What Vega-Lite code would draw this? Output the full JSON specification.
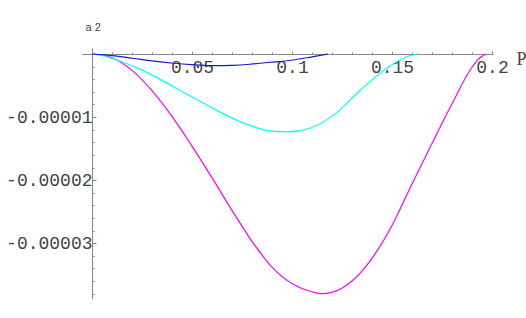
{
  "$schema": "https://vega.github.io/schema/vega-lite/v6.json",
  "width": 411,
  "height": 251,
  "autosize": "none",
  "padding": {"left": 82, "top": 48, "right": 33, "bottom": 19},
  "background": "white",
  "config": {"view": {"stroke": null}},
  "data": {"values": [
    {"s": "c3", "p": 0, "a2": 0},
    {"s": "c3", "p": 0.005, "a2": -0.015e-5},
    {"s": "c3", "p": 0.01, "a2": -0.06e-5},
    {"s": "c3", "p": 0.02, "a2": -0.26e-5},
    {"s": "c3", "p": 0.03, "a2": -0.58e-5},
    {"s": "c3", "p": 0.04, "a2": -0.99e-5},
    {"s": "c3", "p": 0.05, "a2": -1.46e-5},
    {"s": "c3", "p": 0.06, "a2": -1.96e-5},
    {"s": "c3", "p": 0.07, "a2": -2.48e-5},
    {"s": "c3", "p": 0.08, "a2": -2.97e-5},
    {"s": "c3", "p": 0.09, "a2": -3.38e-5},
    {"s": "c3", "p": 0.1, "a2": -3.64e-5},
    {"s": "c3", "p": 0.11, "a2": -3.77e-5},
    {"s": "c3", "p": 0.115, "a2": -3.80e-5},
    {"s": "c3", "p": 0.12, "a2": -3.78e-5},
    {"s": "c3", "p": 0.13, "a2": -3.60e-5},
    {"s": "c3", "p": 0.14, "a2": -3.24e-5},
    {"s": "c3", "p": 0.15, "a2": -2.72e-5},
    {"s": "c3", "p": 0.16, "a2": -2.06e-5},
    {"s": "c3", "p": 0.17, "a2": -1.42e-5},
    {"s": "c3", "p": 0.18, "a2": -0.79e-5},
    {"s": "c3", "p": 0.19, "a2": -0.21e-5},
    {"s": "c3", "p": 0.194, "a2": -0.06e-5},
    {"s": "c3", "p": 0.197, "a2": 0},
    {"s": "c2", "p": 0, "a2": 0},
    {"s": "c2", "p": 0.006, "a2": -0.03e-5},
    {"s": "c2", "p": 0.0124, "a2": -0.095e-5},
    {"s": "c2", "p": 0.024, "a2": -0.24e-5},
    {"s": "c2", "p": 0.0407, "a2": -0.518e-5},
    {"s": "c2", "p": 0.0574, "a2": -0.808e-5},
    {"s": "c2", "p": 0.074, "a2": -1.072e-5},
    {"s": "c2", "p": 0.089, "a2": -1.219e-5},
    {"s": "c2", "p": 0.0974, "a2": -1.235e-5},
    {"s": "c2", "p": 0.109, "a2": -1.177e-5},
    {"s": "c2", "p": 0.1224, "a2": -0.93e-5},
    {"s": "c2", "p": 0.134, "a2": -0.58e-5},
    {"s": "c2", "p": 0.1474, "a2": -0.226e-5},
    {"s": "c2", "p": 0.1574, "a2": -0.043e-5},
    {"s": "c2", "p": 0.163, "a2": 0},
    {"s": "c1", "p": 0, "a2": 0},
    {"s": "c1", "p": 0.01, "a2": -0.025e-5},
    {"s": "c1", "p": 0.0205, "a2": -0.068e-5},
    {"s": "c1", "p": 0.03, "a2": -0.11e-5},
    {"s": "c1", "p": 0.0407, "a2": -0.147e-5},
    {"s": "c1", "p": 0.05, "a2": -0.17e-5},
    {"s": "c1", "p": 0.0607, "a2": -0.185e-5},
    {"s": "c1", "p": 0.07, "a2": -0.18e-5},
    {"s": "c1", "p": 0.079, "a2": -0.163e-5},
    {"s": "c1", "p": 0.089, "a2": -0.131e-5},
    {"s": "c1", "p": 0.1007, "a2": -0.095e-5},
    {"s": "c1", "p": 0.11, "a2": -0.045e-5},
    {"s": "c1", "p": 0.118, "a2": 0}
  ]},
  "mark": {"type": "line", "interpolate": "monotone", "strokeWidth": 1.2, "clip": false},
  "encoding": {
    "x": {
      "field": "p", "type": "quantitative",
      "scale": {"domain": [-0.005, 0.2005], "nice": false, "zero": false},
      "axis": {
        "orient": "top", "offset": -6, "grid": false,
        "values": [0.01,0.02,0.03,0.04,0.05,0.06,0.07,0.08,0.09,0.1,0.11,0.12,0.13,0.14,0.15,0.16,0.17,0.18,0.19,0.2],
        "labelExpr": "abs(datum.value*20 - round(datum.value*20)) < 0.001 ? toString(datum.value) : ''",
        "tickSize": {"condition": {"test": "abs(datum.value*20 - round(datum.value*20)) < 0.001", "value": 3}, "value": 2},
        "tickColor": "#888", "domainColor": "#888", "tickWidth": 1, "domainWidth": 1,
        "labelBaseline": "top", "labelPadding": -7, "labelFlush": false, "labelOverlap": false,
        "labelFont": "Liberation Mono", "labelFontSize": 18, "labelColor": "#444",
        "title": "P", "titleFont": "Liberation Serif", "titleFontSize": 18, "titleFontWeight": "normal",
        "titleColor": "#444", "titleX": 434, "titleY": 10, "titleAlign": "left", "titleBaseline": "alphabetic", "titleAngle": 0
      }
    },
    "y": {
      "field": "a2", "type": "quantitative",
      "scale": {"domain": [-0.00003885, 0.00000095], "nice": false, "zero": false},
      "axis": {
        "orient": "left", "offset": -10, "grid": false,
        "values": [-0.000002,-0.000004,-0.000006,-0.000008,-0.00001,-0.000012,-0.000014,-0.000016,-0.000018,-0.00002,-0.000022,-0.000024,-0.000026,-0.000028,-0.00003,-0.000032,-0.000034,-0.000036,-0.000038],
        "labelExpr": "abs(datum.value*1e5 - round(datum.value*1e5)) < 0.001 ? '-0.0000' + toString(-round(datum.value*1e5)) : ''",
        "tickSize": {"condition": {"test": "abs(datum.value*1e5 - round(datum.value*1e5)) < 0.001", "value": -4}, "value": -2},
        "tickColor": "#888", "domainColor": "#888", "tickWidth": 1, "domainWidth": 1,
        "labelPadding": 4, "labelFlush": false, "labelOverlap": false, "labelBaseline": "middle",
        "labelFont": "Liberation Mono", "labelFontSize": 18, "labelColor": "#444",
        "title": "a 2", "titleFont": "Liberation Sans", "titleFontSize": 11, "titleFontWeight": "normal",
        "titleColor": "#444", "titleAngle": 0, "titleX": -7, "titleY": -18, "titleAlign": "left", "titleBaseline": "alphabetic"
      }
    },
    "color": {
      "field": "s", "type": "nominal",
      "scale": {"domain": ["c3", "c2", "c1"], "range": ["#ff00ff", "#00ffff", "#1818d8"]},
      "legend": null
    }
  }
}
